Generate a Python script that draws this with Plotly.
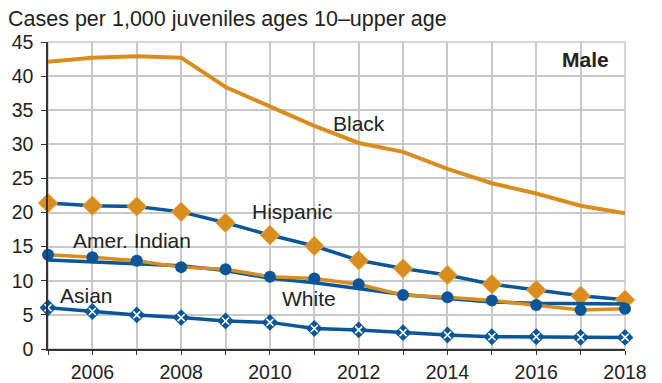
import plotly.graph_objects as go

years = list(range(2005, 2019))
black = [42.1, 42.7, 42.9, 42.7, 38.4, 35.5, 32.7, 30.2, 28.9, 26.4, 24.3, 22.8, 21.0, 19.9]
hispanic = [21.4, 21.0, 20.9, 20.1, 18.5, 16.7, 15.1, 13.0, 11.8, 10.85, 9.5, 8.65, 7.8, 7.2]
amer_indian = [13.8, 13.45, 12.95, 12.0, 11.7, 10.6, 10.35, 9.5, 7.9, 7.6, 7.1, 6.45, 5.7, 5.9]
white = [13.05, 12.8, 12.55, 12.2, 11.5, 10.35, 9.7, 8.9, 8.0, 7.4, 6.9, 6.7, 6.6, 6.6]
asian = [6.05, 5.5, 5.0, 4.6, 4.1, 3.9, 3.0, 2.8, 2.4, 2.05, 1.8, 1.8, 1.7, 1.7]

x_tick_labels = ["" if y % 2 else str(y) for y in years]
y_ticks = list(range(0, 50, 5))

labels = [
    ("Black", 2012.0, 33.0, False),
    ("Hispanic", 2010.5, 20.1, False),
    ("Amer. Indian", 2006.9, 15.9, False),
    ("Asian", 2005.87, 7.8, False),
    ("White", 2010.87, 7.4, False),
    ("Male", 2017.1, 42.4, True),
]

BLUE = "#0a5699"
ORANGE = "#d98d1f"
FONT = "Liberation Sans, Arial, sans-serif"

fig = go.Figure()
fig.add_trace(go.Scatter(x=years, y=black, mode="lines",
                         line=dict(color=ORANGE, width=4), cliponaxis=False))
fig.add_trace(go.Scatter(x=years, y=hispanic, mode="lines+markers",
                         line=dict(color=BLUE, width=3.5),
                         marker=dict(symbol="diamond", size=15, color=ORANGE,
                                     line=dict(color="#e8a94e", width=1)),
                         cliponaxis=False))
fig.add_trace(go.Scatter(x=years, y=white, mode="lines",
                         line=dict(color=BLUE, width=3.5), cliponaxis=False))
fig.add_trace(go.Scatter(x=years, y=amer_indian, mode="lines+markers",
                         line=dict(color=ORANGE, width=3.5),
                         marker=dict(symbol="circle", size=12, color=BLUE),
                         cliponaxis=False))
fig.add_trace(go.Scatter(x=years, y=asian, mode="lines+markers",
                         line=dict(color=BLUE, width=3.5),
                         marker=dict(symbol="diamond", size=13, color=BLUE),
                         cliponaxis=False))
fig.add_trace(go.Scatter(x=years, y=asian, mode="markers",
                         marker=dict(symbol="x-thin", size=7, color="white",
                                     line=dict(color="white", width=1.6)),
                         cliponaxis=False))

for text, lx, ly, bold in labels:
    fig.add_annotation(x=lx, y=ly, xref="x", yref="y", showarrow=False,
                       text=f"<b>{text}</b>" if bold else text,
                       font=dict(size=21, color="#222222", family=FONT))

fig.update_layout(
    width=654, height=375,
    margin=dict(l=40, r=37, t=34, b=34, autoexpand=False),
    paper_bgcolor="white", plot_bgcolor="white",
    showlegend=False,
    font=dict(family=FONT, size=19.5, color="#222222"),
    title=dict(text="Cases per 1,000 juveniles ages 10\u2013upper age",
               x=0.0, xanchor="left", xref="container",
               y=0.973, yanchor="middle", yref="container",
               font=dict(size=21.5, color="#222222", family=FONT)),
)
fig.update_xaxes(range=[2005, 2018], tickvals=years, ticktext=x_tick_labels,
                 showgrid=True, gridcolor="#c8c8c8", gridwidth=1.5,
                 showline=True, linecolor="#333333", linewidth=1.5,
                 ticks="outside", ticklen=4, tickcolor="#333333",
                 ticklabelstandoff=1, automargin=False,
                 zeroline=False, tickfont=dict(size=19.5))
fig.update_yaxes(range=[0, 45], tickvals=y_ticks,
                 showgrid=True, gridcolor="#c8c8c8", gridwidth=1.5,
                 showline=True, linecolor="#333333", linewidth=1.5,
                 ticks="outside", ticklen=5, tickcolor="#333333",
                 ticklabelstandoff=4, automargin=False,
                 zeroline=False, tickfont=dict(size=19.5))
fig.add_shape(type="rect", xref="paper", yref="paper", x0=0, x1=1, y0=0, y1=1,
              line=dict(color="#c8c8c8", width=1.5), layer="below")

fig.write_html("out.html")
